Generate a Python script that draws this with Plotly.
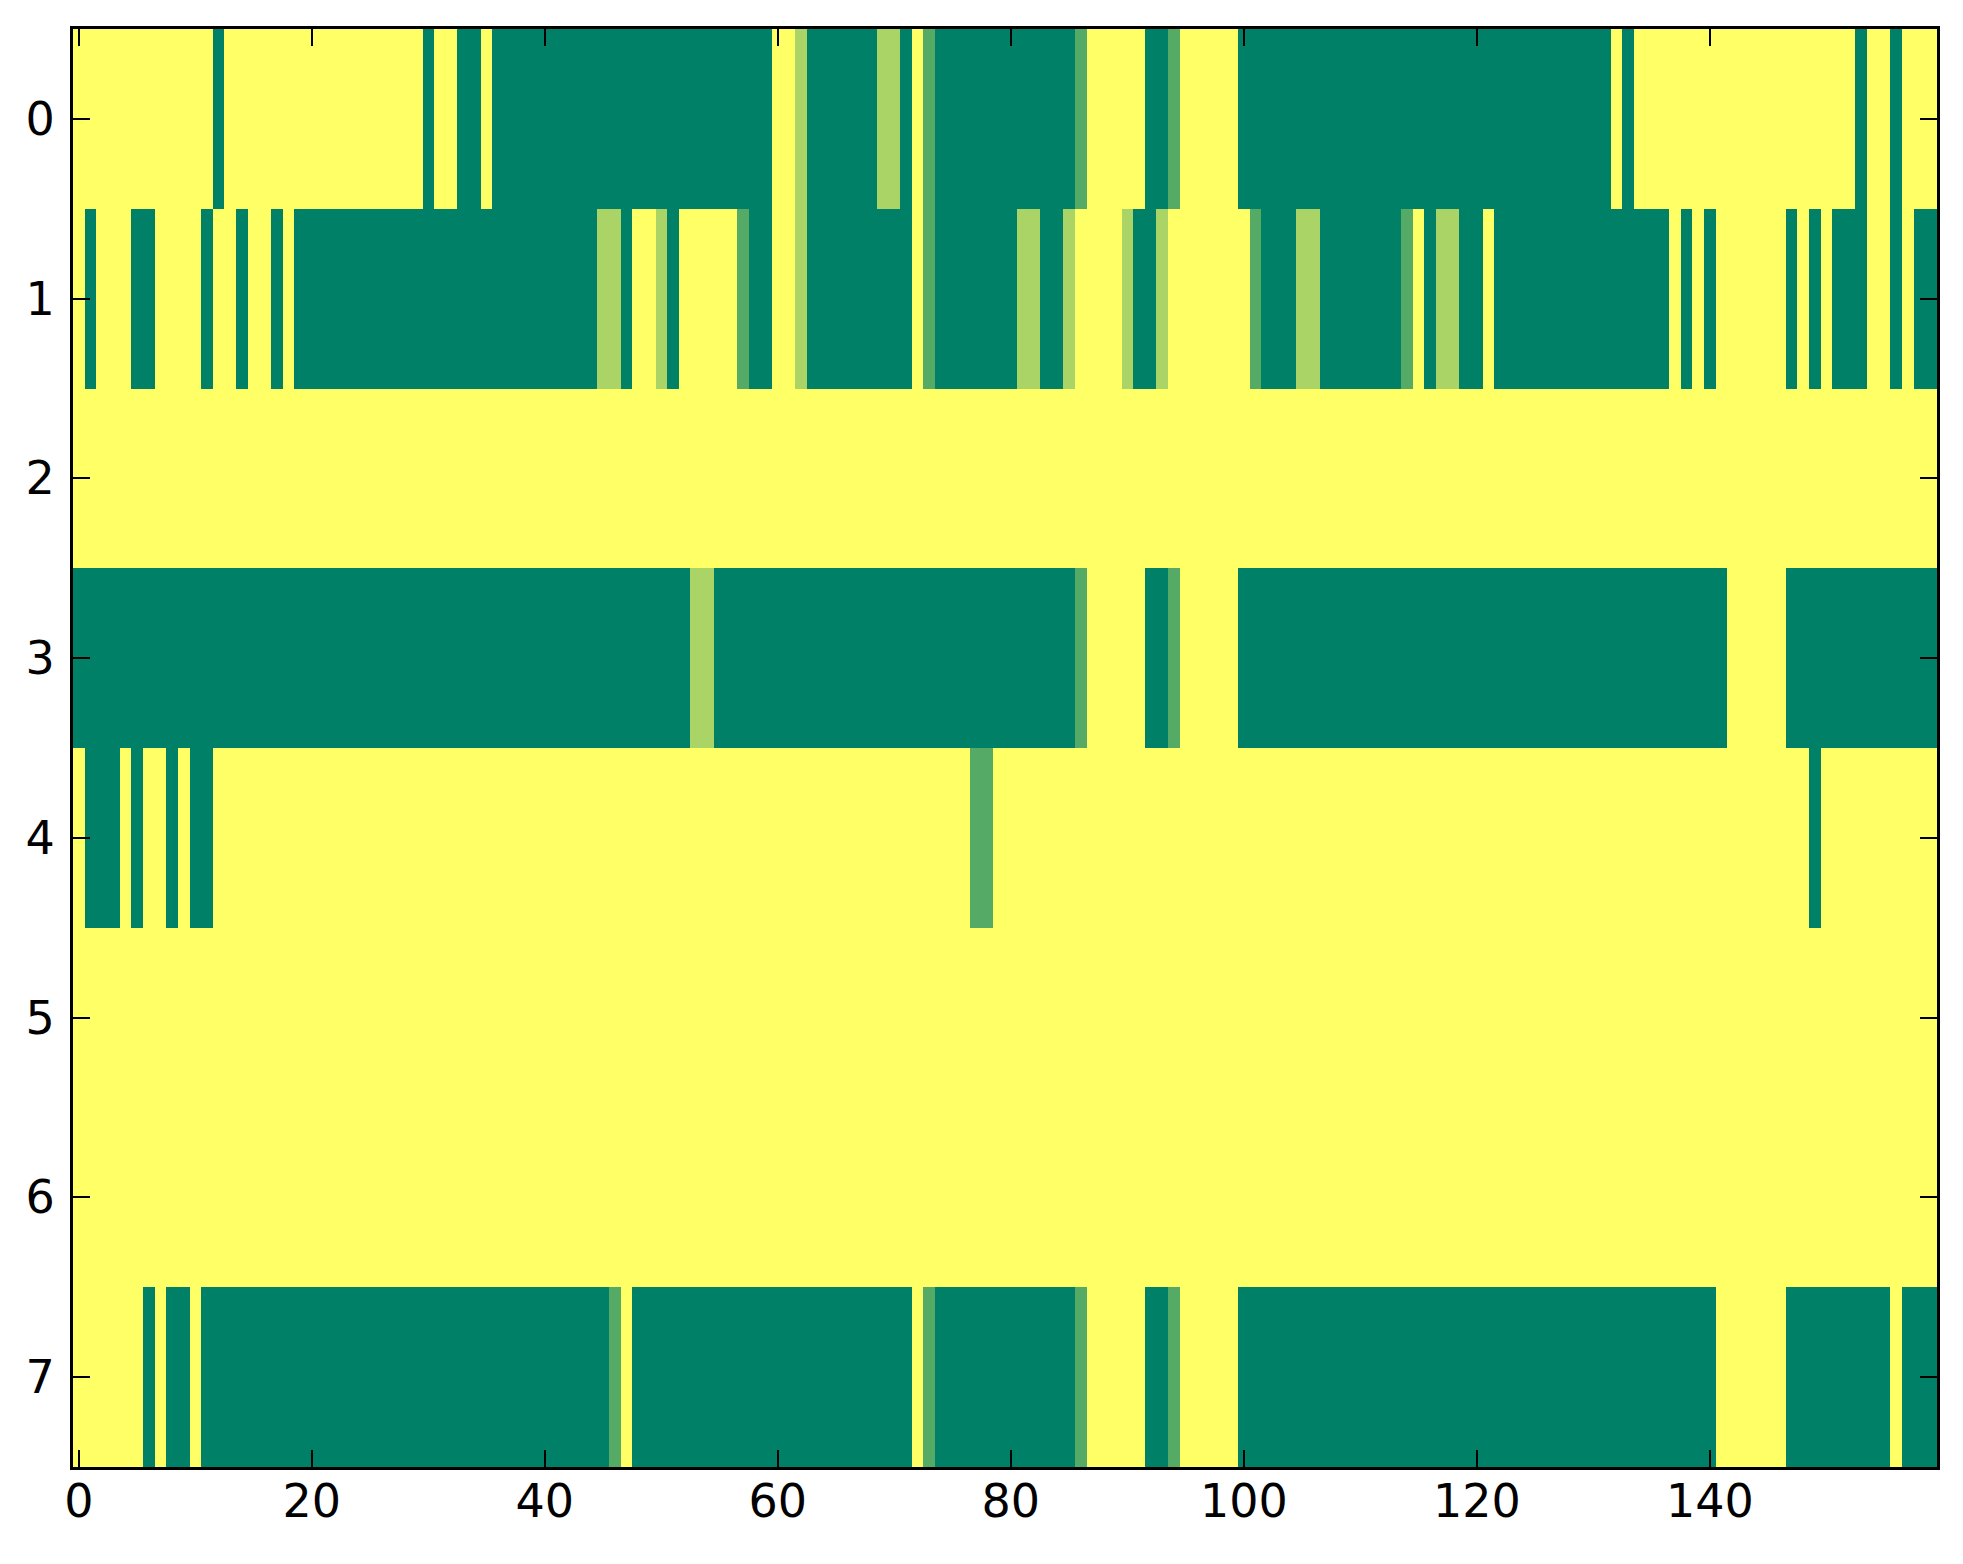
import numpy as np
import plotly.graph_objects as go

# each row is given as runs of (level, count); level 0..3 -> value level/3
# 0 = dark green, 1 = mid green, 2 = light green, 3 = yellow
ROW_0 = [(3, 12), (0, 1), (3, 17), (0, 1), (3, 2), (0, 2), (3, 1), (0, 24), (3, 2), (2, 1),
         (0, 6), (2, 2), (0, 1), (3, 1), (1, 1), (0, 12), (1, 1), (3, 5), (0, 2), (1, 1),
         (3, 5), (0, 32), (3, 1), (0, 1), (3, 19), (0, 1), (3, 2), (0, 1), (3, 3)]
ROW_1 = [(3, 1), (0, 1), (3, 3), (0, 2), (3, 4), (0, 1), (3, 2), (0, 1), (3, 2), (0, 1),
         (3, 1), (0, 26), (2, 2), (0, 1), (3, 2), (2, 1), (0, 1), (3, 5), (1, 1), (0, 2),
         (3, 2), (2, 1), (0, 9), (3, 1), (1, 1), (0, 7), (2, 2), (0, 2), (2, 1), (3, 4),
         (2, 1), (0, 2), (2, 1), (3, 7), (1, 1), (0, 3), (2, 2), (0, 7), (1, 1), (3, 1),
         (0, 1), (2, 2), (0, 2), (3, 1), (0, 15), (3, 1), (0, 1), (3, 1), (0, 1), (3, 6),
         (0, 1), (3, 1), (0, 1), (3, 1), (0, 3), (3, 2), (0, 1), (3, 1), (0, 2)]
ROW_2 = [(3, 160)]
ROW_3 = [(0, 53), (2, 2), (0, 31), (1, 1), (3, 5), (0, 2), (1, 1), (3, 5), (0, 42), (3, 5),
         (0, 13)]
ROW_4 = [(3, 1), (0, 3), (3, 1), (0, 1), (3, 2), (0, 1), (3, 1), (0, 2), (3, 65), (1, 2),
         (3, 70), (0, 1), (3, 10)]
ROW_5 = [(3, 160)]
ROW_6 = [(3, 160)]
ROW_7 = [(3, 6), (0, 1), (3, 1), (0, 2), (3, 1), (0, 35), (1, 1), (3, 1), (0, 24), (3, 1),
         (1, 1), (0, 12), (1, 1), (3, 5), (0, 2), (1, 1), (3, 5), (0, 41), (3, 6), (0, 9),
         (3, 1), (0, 3)]

ROWS = [ROW_0, ROW_1, ROW_2, ROW_3, ROW_4, ROW_5, ROW_6, ROW_7]
N_COLS = 160
X_TICKS = [0, 20, 40, 60, 80, 100, 120, 140]
Y_TICKS = [0, 1, 2, 3, 4, 5, 6, 7]


def expand(runs):
    vals = []
    for level, n in runs:
        vals += [level / 3.0] * n
    assert len(vals) == N_COLS
    return vals


z = np.array([expand(r) for r in ROWS])

fig = go.Figure(go.Heatmap(
    z=z,
    x=list(range(N_COLS)),
    y=list(range(len(ROWS))),
    colorscale=[[0, '#008066'], [1, '#ffff66']],
    zmin=0, zmax=1,
    showscale=False,
))

axis_style = dict(
    showline=True, linecolor='black', linewidth=3, mirror='ticks',
    ticks='inside', ticklen=17, tickwidth=2, tickcolor='black',
    showgrid=False, zeroline=False,
    tickfont=dict(family='DejaVu Sans', size=46, color='black'),
)

fig.update_xaxes(range=[-0.5, N_COLS - 0.5], tickvals=X_TICKS, ticklabelstandoff=-8, **axis_style)
fig.update_yaxes(range=[len(ROWS) - 0.5, -0.5], tickvals=Y_TICKS, ticklabelstandoff=6, **axis_style)

# page body adds 8px, so margins are shifted to keep the plot box in place
fig.update_layout(
    width=1963, height=1564,
    margin=dict(l=65, r=34, t=21, b=105),
    paper_bgcolor='white', plot_bgcolor='white',
)

fig.write_html("out.html")
